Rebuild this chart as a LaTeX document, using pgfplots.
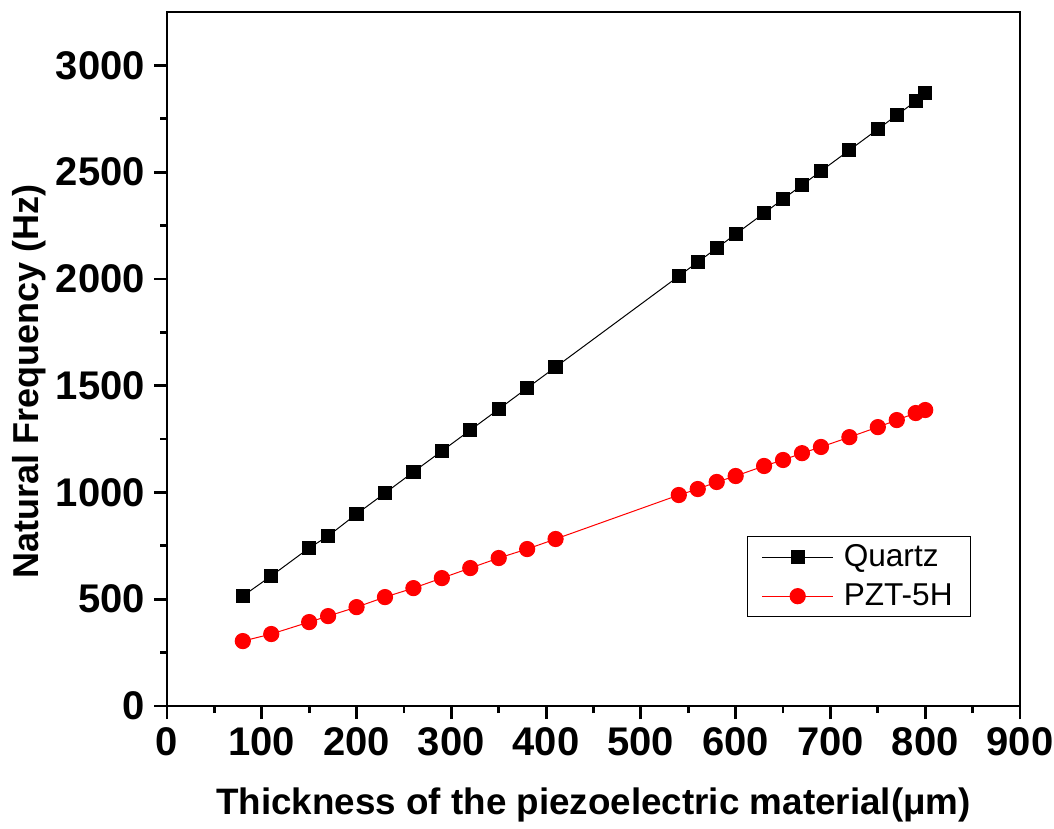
\documentclass[border=0pt]{standalone}
\usepackage{fontspec}
\setmainfont{Liberation Sans}
\usepackage{pgfplots}
\pgfplotsset{compat=1.18}
\begin{document}
\begin{tikzpicture}
\path[use as bounding box] (0pt,0pt) rectangle (527pt,414.5pt);
\begin{axis}[
  at={(83.5pt,61.5pt)}, anchor=south west,
  scale only axis, width=426.5pt, height=347pt,
  xmin=0, xmax=900, ymin=0, ymax=3250,
  xtick={0,100,...,900}, ytick={0,500,...,3000},
  minor x tick num=1, minor y tick num=1,
  axis line style={line width=1.4pt},
  tick style={line width=1.4pt, black},
  major tick length=6.5pt, minor tick length=3.5pt,
  tick align=outside, xtick pos=bottom, ytick pos=left,
  /pgf/number format/assume math mode=true,
  /pgf/number format/1000 sep={},
  ticklabel style={font=\fontsize{20}{22}\selectfont\bfseries},
  xticklabel style={yshift=-1pt},
  yticklabel style={xshift=-1pt},
  xlabel={Thickness of the piezoelectric material(μm)},
  ylabel={Natural Frequency (Hz)},
  xlabel style={font=\fontsize{18.4}{21}\selectfont\bfseries, yshift=-9pt},
  ylabel style={font=\fontsize{18}{21}\selectfont\bfseries, at={(ticklabel cs:0.468)}, yshift=-2pt},
  legend style={at={(0.68,0.128)}, anchor=south west, draw=black, line width=0.6pt,
    font=\fontsize{15.8}{18}\selectfont, row sep=3pt, column sep=3pt, inner xsep=7pt, inner ysep=2pt},
  legend image code/.code={\draw[mark repeat=2,mark phase=2] plot coordinates {(0cm,0cm)(0.625cm,0cm)(1.25cm,0cm)};},
  legend cell align=left,
]
\addplot[black, line width=0.5pt, mark=square*, mark size=3.3pt, mark options={solid, fill=black}]
coordinates {
(80,515)(110,609)(150,740)(170,796)(200,899)(230,997)(260,1096)(290,1194)(320,1292)(350,1390)(380,1489)(410,1587)
(540,2013)(560,2079)(580,2144)(600,2210)(630,2308)(650,2374)(670,2439)(690,2505)(720,2603)(750,2701)(770,2767)(790,2832)(800,2870)
};
\addlegendentry{Quartz}
\addplot[red, line width=0.5pt, mark=*, mark size=3.8pt, mark options={solid, fill=red, draw=red}]
coordinates {
(80,304)(110,337)(150,393)(170,421)(200,463)(230,510)(260,552)(290,599)(320,646)(350,693)(380,735)(410,782)
(540,988)(560,1016)(580,1049)(600,1077)(630,1124)(650,1152)(670,1184)(690,1213)(720,1259)(750,1306)(770,1339)(790,1372)(800,1386)
};
\addlegendentry{PZT-5H}
\end{axis}
\end{tikzpicture}
\end{document}
